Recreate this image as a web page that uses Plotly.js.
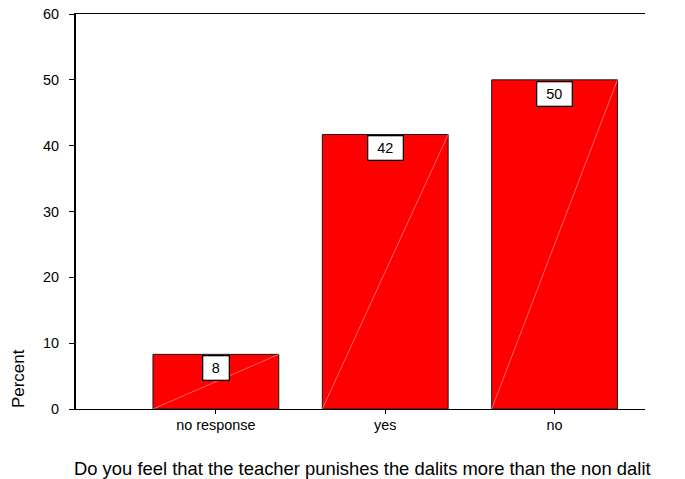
<!DOCTYPE html>
<html>
<head>
<meta charset="utf-8">
<script src="https://cdn.plot.ly/plotly-3.0.1.min.js"></script>
<style>html,body{margin:0;padding:0;background:#fff;}#chart{width:685px;height:479px;}</style>
</head>
<body>
<div id="chart"></div>
<script>
const categories = ["no response", "yes", "no"];
const percents = [8.3, 41.7, 50.0];
const labels = ["8", "42", "50"];
const yTicks = [0, 10, 20, 30, 40, 50, 60];
const xTitle = "Do you feel that the teacher punishes the dalits more than the non dalit";
const yTitle = "Percent";

const xIdx = categories.map((_, i) => i);
const barWidth = 0.743;
const font = "Liberation Sans, Arial, sans-serif";

const trace = {
  type: "bar",
  x: xIdx,
  y: percents,
  width: barWidth,
  marker: {color: "#ff0000", line: {color: "#1a1a1a", width: 1}},
  hoverinfo: "none"
};

const shapes = percents.map((v, i) => ({
  type: "line", xref: "x", yref: "y",
  x0: i - barWidth / 2, y0: 0, x1: i + barWidth / 2, y1: v,
  line: {color: "rgba(255,190,190,0.9)", width: 0.6}
}));

const annotations = percents.map((v, i) => ({
  x: i, y: v, xref: "x", yref: "y",
  text: labels[i], showarrow: false,
  yanchor: "top", yshift: -1,
  bgcolor: "#ffffff", bordercolor: "#000000", borderwidth: 1.3,
  borderpad: 4,
  width: labels[i].length > 1 ? 26 : 17, height: 15,
  font: {family: font, size: 14.4, color: "#000"}
}));

annotations.push({
  xref: "paper", yref: "paper", x: -0.101, y: 0.077,
  xanchor: "center", yanchor: "middle",
  text: yTitle, textangle: -90, showarrow: false,
  font: {family: font, size: 17, color: "#000"}
});

annotations.push({
  xref: "paper", yref: "paper", x: 0.504, y: 0,
  xanchor: "center", yanchor: "middle", yshift: -59,
  text: xTitle, showarrow: false,
  font: {family: font, size: 18.4, color: "#000"}
});

const layout = {
  width: 685, height: 479,
  margin: {l: 76, r: 40, t: 14, b: 70},
  paper_bgcolor: "#fff", plot_bgcolor: "#fff",
  showlegend: false,
  font: {family: font, color: "#000"},
  xaxis: {
    range: [-0.826, 2.534],
    tickmode: "array", tickvals: xIdx, ticktext: categories,
    ticks: "outside", ticklen: 4, tickwidth: 1, tickcolor: "#000",
    showline: true, linecolor: "#000", linewidth: 1.3, mirror: true,
    showgrid: false, zeroline: false,
    ticklabelstandoff: -2,
    tickfont: {family: font, size: 14.4, color: "#000"}
  },
  yaxis: {
    range: [0, 60],
    tickmode: "array", tickvals: yTicks,
    ticks: "outside", ticklen: 5, tickwidth: 1, tickcolor: "#000",
    showline: true, linecolor: "#000", linewidth: 2,
    showgrid: false, zeroline: false,
    tickfont: {family: font, size: 14.4, color: "#000"},
    ticklabelstandoff: 7
  },
  shapes: shapes,
  annotations: annotations
};

Plotly.newPlot("chart", [trace], layout, {displayModeBar: false, staticPlot: true});
</script>
</body>
</html>
